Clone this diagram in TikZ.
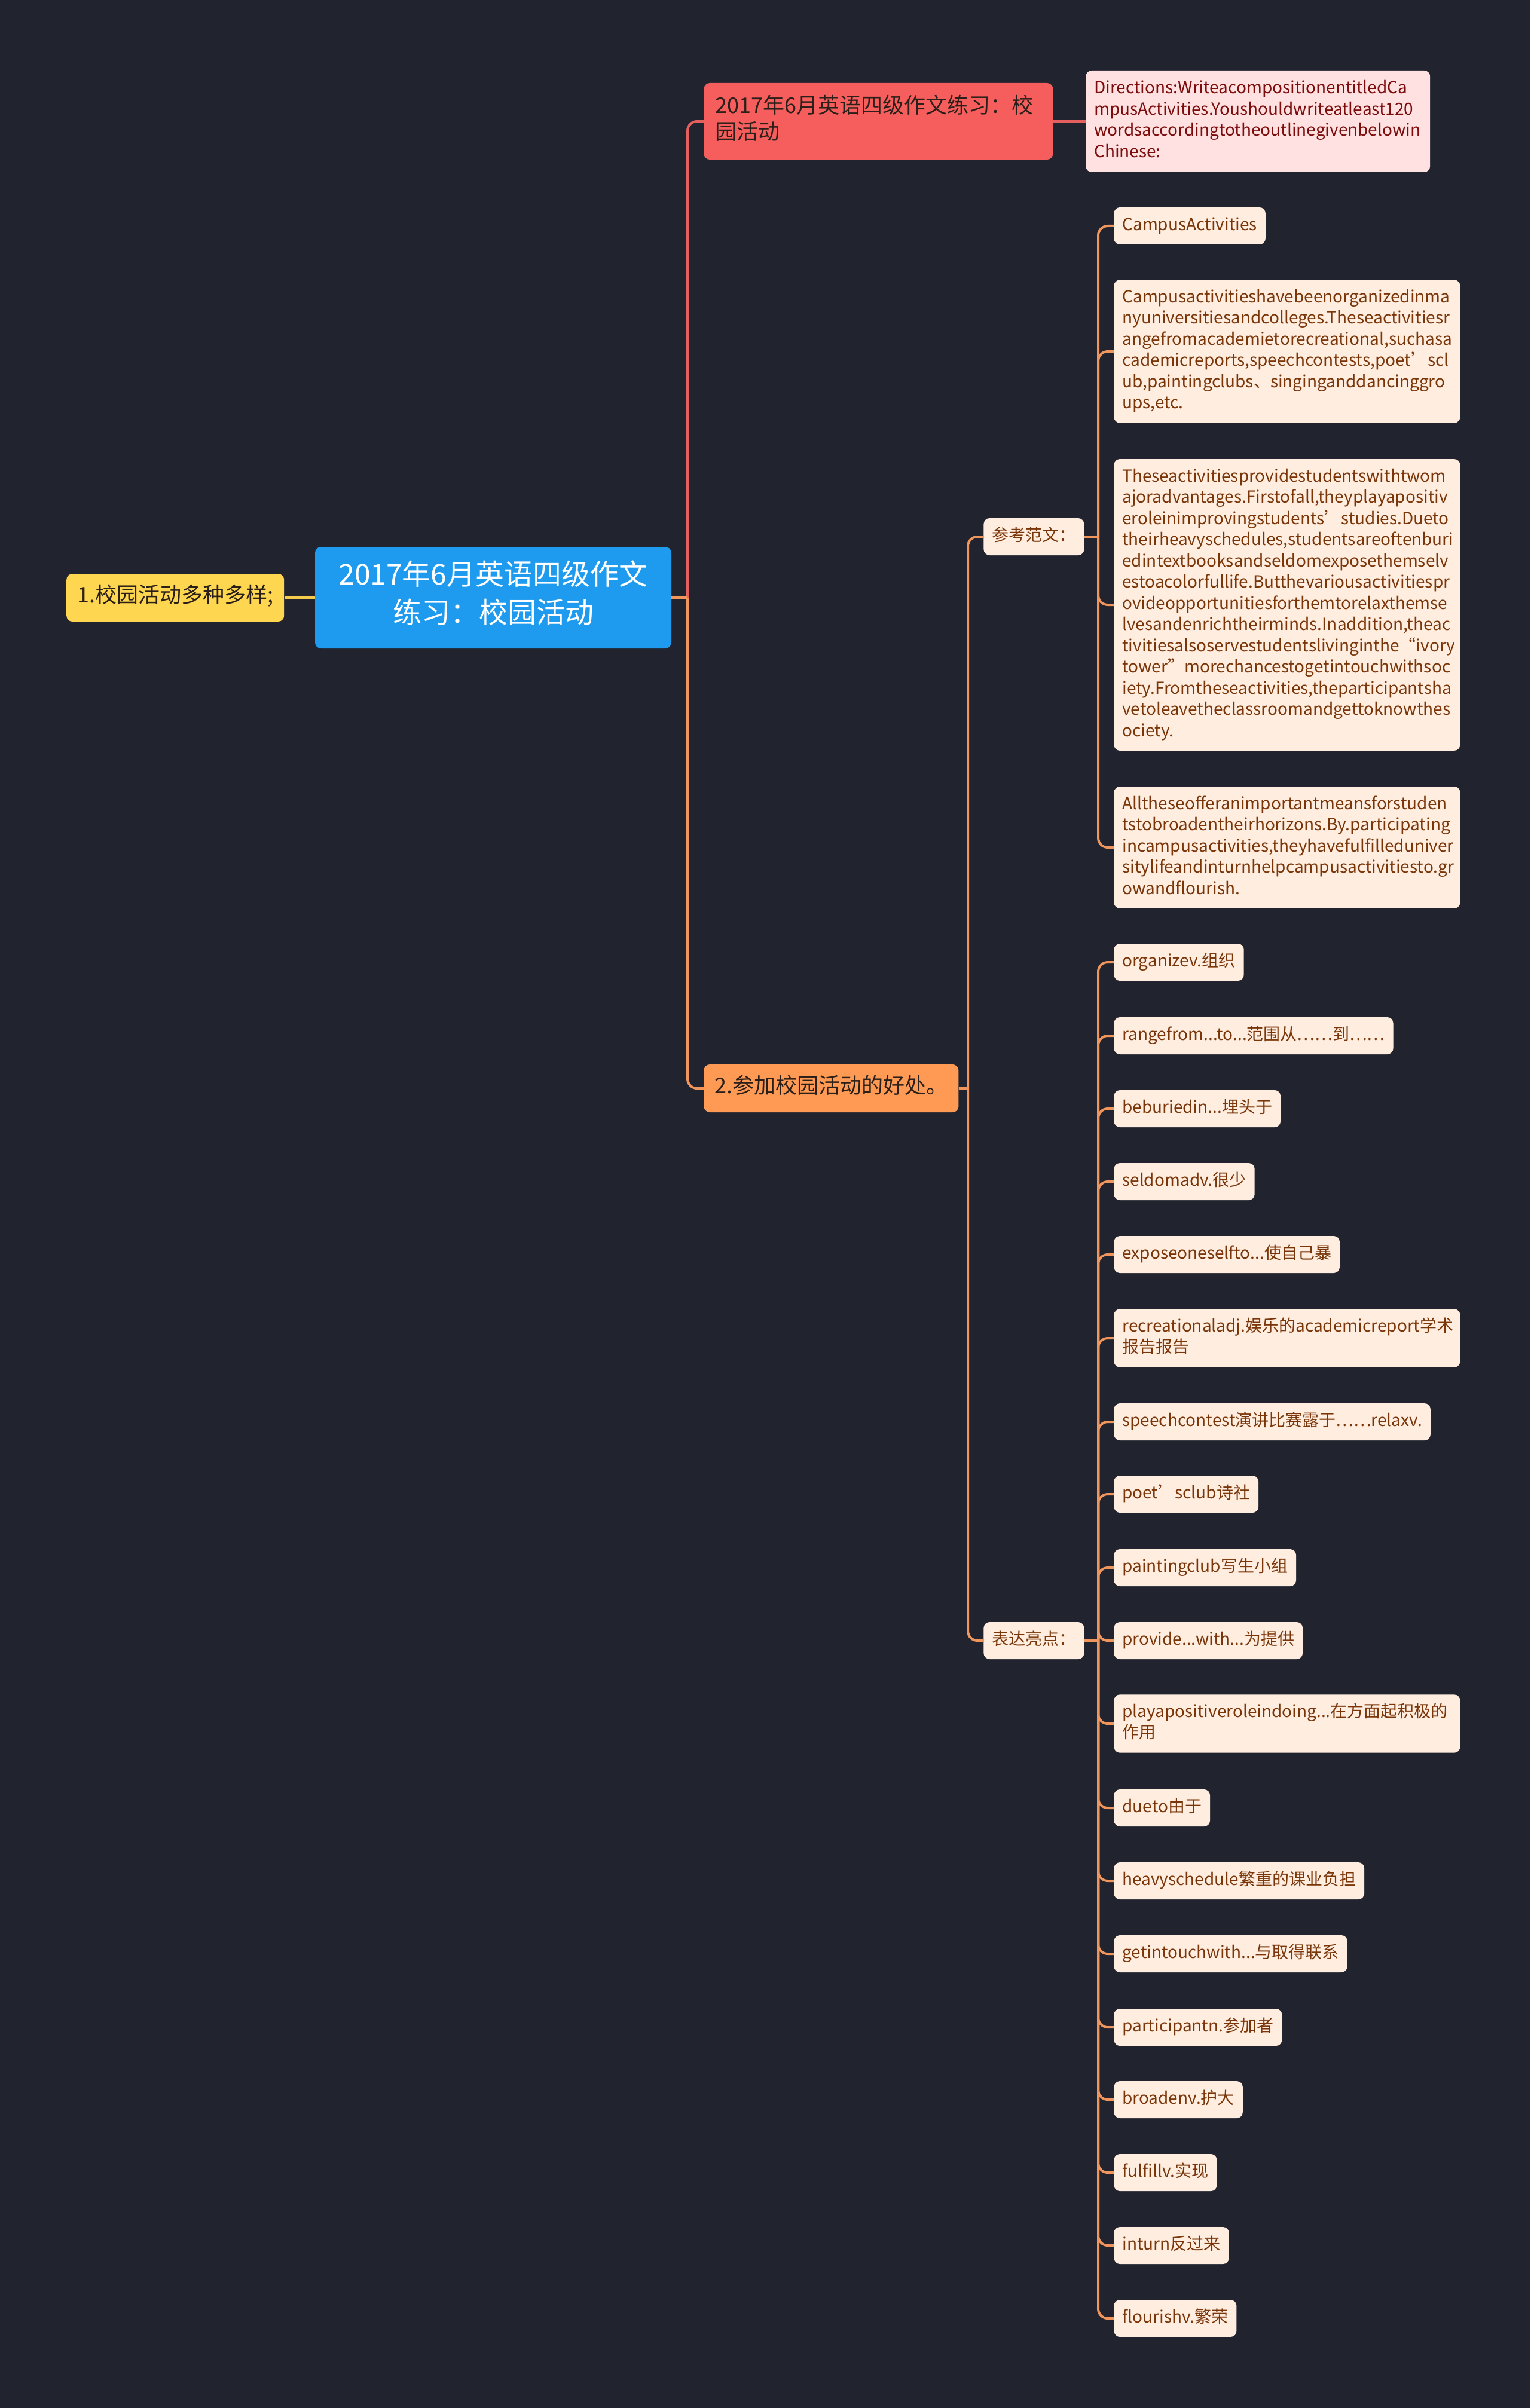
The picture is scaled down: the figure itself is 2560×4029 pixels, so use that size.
\documentclass[tikz,border=0pt]{standalone}
\usepackage{fontspec}
\setmainfont{Noto Sans CJK SC}
\usepackage{tikz}
\usetikzlibrary{positioning,calc}
\usepackage{xcolor}
\definecolor{mapBg}{HTML}{21242F}
\definecolor{rootBlue}{HTML}{1E9BEF}
\definecolor{topYellow}{HTML}{FFD64F}
\definecolor{topRed}{HTML}{F65E5E}
\definecolor{topOrange}{HTML}{FF9A55}
\definecolor{notePink}{HTML}{FFE1E1}
\definecolor{noteRed}{HTML}{7D0D0D}
\definecolor{leafCream}{HTML}{FFEDE0}
\definecolor{leafBrown}{HTML}{7A3609}
\definecolor{lineOrange}{HTML}{F0965C}
\definecolor{lineRed}{HTML}{E4605F}
\definecolor{lineYellow}{HTML}{F5CB4B}
\definecolor{darkText}{HTML}{2B2019}

\newcommand{\leafsize}{\fontsize{14pt}{17.75pt}\selectfont\hyphenpenalty=10000 }
\newcommand{\branchsize}{\fontsize{18pt}{22pt}\selectfont\hyphenpenalty=10000 }
\newcommand{\rootsize}{\fontsize{24pt}{32pt}\selectfont}

\tikzset{
    % boxes of the mind map
    mapbox/.style={rounded corners=5pt,align=left,execute at begin node=\strut,execute at end node=\strut},
    rootbox/.style={mapbox,fill=rootBlue,text=white,font=\rootsize,align=center,minimum width=298pt,minimum height=85pt},
    yellowbox/.style={mapbox,fill=topYellow,text=darkText,font=\branchsize,inner xsep=9pt,minimum height=40pt},
    redbox/.style={mapbox,fill=topRed,text=darkText,font=\branchsize,inner xsep=9.5pt,inner ysep=10pt,text width=273pt},
    orangebox/.style={mapbox,fill=topOrange,text=darkText,font=\branchsize,inner xsep=9pt,minimum height=40pt},
    notebox/.style={mapbox,fill=notePink,text=noteRed,font=\leafsize,inner xsep=7pt,inner ysep=7pt,text width=274pt},
    leaf/.style={mapbox,fill=leafCream,text=leafBrown,font=\leafsize,inner xsep=7pt,inner ysep=6.6pt,minimum height=31pt,anchor=west},
    para/.style={leaf,text width=275.5pt}
}

\begin{document}
\begin{tikzpicture}[x=0.5pt,y=-0.5pt,
    link/.style={draw=lineOrange,line width=2pt,rounded corners=8pt},
    redlink/.style={link,draw=lineRed},
    yellowlink/.style={link,draw=lineYellow}
]
  % dark page
  \fill[mapBg] (0,0) rectangle (2560,4029);
  \useasboundingbox (0,0) rectangle (2560,4029);

  % centre topic and main branches
  \node[rootbox] at (825,1000) (root) {2017年6月英语四级作文\\练习：校园活动};
  \node[yellowbox,left=25.5pt of root] (diverse) {1.校园活动多种多样;};
  \node[redbox,anchor=west] at (1177,203) (title) {2017年6月英语四级作文练习：校\\园活动};
  \node[notebox,right=27pt of title] (directions) {Directions:WriteacompositionentitledCa\\mpusActivities.Youshouldwriteatleast120\\wordsaccordingtotheoutlinegivenbelowin\\Chinese:};
  \node[orangebox,anchor=west] at (1177,1821) (benefit) {2.参加校园活动的好处。};

  % second level
  \node[leaf] at (1645,898) (sample) {参考范文：};
  \node[leaf] at (1645,2745) (phrases) {表达亮点：};

  % sample essay
  \node[leaf] at (1863,378) (essay1) {CampusActivities};
  \node[para] at (1863,588) (essay2) {Campusactivitieshavebeenorganizedinma\\nyuniversitiesandcolleges.Theseactivitiesr\\angefromacademietorecreational,suchasa\\cademicreports,speechcontests,poet’scl\\ub,paintingclubs、singinganddancinggro\\ups,etc.};
  \node[para] at (1863,1012) (essay3) {Theseactivitiesprovidestudentswithtwom\\ajoradvantages.Firstofall,theyplayapositiv\\eroleinimprovingstudents’studies.Dueto\\theirheavyschedules,studentsareoftenburi\\edintextbooksandseldomexposethemselv\\estoacolorfullife.Butthevariousactivitiespr\\ovideopportunitiesforthemtorelaxthemse\\lvesandenrichtheirminds.Inaddition,theac\\tivitiesalsoservestudentslivinginthe“ivory\\tower”morechancestogetintouchwithsoc\\iety.Fromtheseactivities,theparticipantsha\\vetoleavetheclassroomandgettoknowthes\\ociety.};
  \node[para] at (1863,1418) (essay4) {Alltheseofferanimportantmeansforstuden\\tstobroadentheirhorizons.By.participating\\incampusactivities,theyhavefulfilleduniver\\sitylifeandinturnhelpcampusactivitiesto.gr\\owandflourish.};

  % useful expressions
  \node[leaf] at (1863,1610) (voc1) {organizev.组织};
  \node[leaf] at (1863,1733) (voc2) {rangefrom...to...范围从……到……};
  \node[leaf] at (1863,1855) (voc3) {beburiedin...埋头于};
  \node[leaf] at (1863,1977) (voc4) {seldomadv.很少};
  \node[leaf] at (1863,2099) (voc5) {exposeoneselfto...使自己暴};
  \node[para] at (1863,2239) (voc6) {recreationaladj.娱乐的academicreport学术\\报告报告};
  \node[leaf] at (1863,2379) (voc7) {speechcontest演讲比赛露于……relaxv.};
  \node[leaf] at (1863,2500) (voc8) {poet’sclub诗社};
  \node[leaf] at (1863,2623) (voc9) {paintingclub写生小组};
  \node[leaf] at (1863,2745) (voc10) {provide...with...为提供};
  \node[para] at (1863,2884) (voc11) {playapositiveroleindoing...在方面起积极的\\作用};
  \node[leaf] at (1863,3025) (voc12) {dueto由于};
  \node[leaf] at (1863,3147) (voc13) {heavyschedule繁重的课业负担};
  \node[leaf] at (1863,3269) (voc14) {getintouchwith...与取得联系};
  \node[leaf] at (1863,3392) (voc15) {participantn.参加者};
  \node[leaf] at (1863,3513) (voc16) {broadenv.护大};
  \node[leaf] at (1863,3635) (voc17) {fulfillv.实现};
  \node[leaf] at (1863,3757) (voc18) {inturn反过来};
  \node[leaf] at (1863,3879) (voc19) {flourishv.繁荣};

  % trunk points of the branches
  \coordinate (rootfork) at (1150,1000);
  \coordinate (benefitfork) at (1619,1821);
  \coordinate (samplefork) at (1837,898);
  \coordinate (phrasefork) at (1837,2745);

  % connectors
  \draw[yellowlink] (root.west) -- (diverse.east);
  \draw[redlink] (rootfork) |- (title.west);
  \draw[link] (root.east) -- (rootfork);
  \draw[link] (rootfork) |- (benefit.west);
  \draw[redlink] (title.east) -- (directions.west);
  \draw[link] (benefit.east) -- (benefitfork);
  \draw[link] (benefitfork) |- (sample.west);
  \draw[link] (benefitfork) |- (phrases.west);
  \draw[link] (sample.east) -- (samplefork);
  \foreach \i in {1,...,4} \draw[link] (samplefork) |- (essay\i.west);
  \draw[link] (phrases.east) -- (phrasefork);
  \foreach \i in {1,...,19} \draw[link] (phrasefork) |- (voc\i.west);
\end{tikzpicture}
\end{document}
